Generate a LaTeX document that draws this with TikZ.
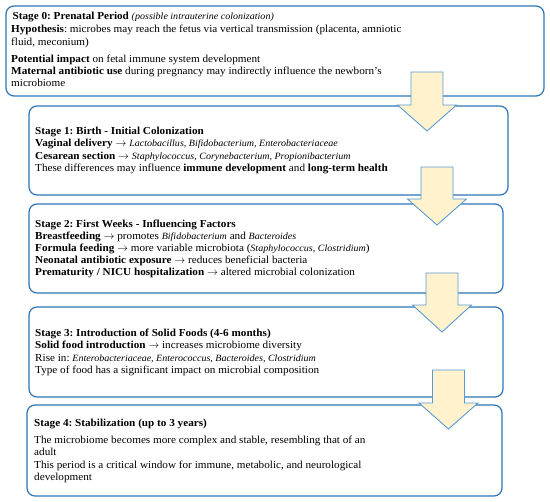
\documentclass[tikz,border=0pt]{standalone}
\usepackage{fontspec}
\setmainfont{Liberation Serif}[FakeStretch=1.045]
\definecolor{boxblue}{HTML}{2E75B6}
\definecolor{arrowblue}{HTML}{5B9BD5}
\definecolor{arrowfill}{HTML}{FFF2CC}
\tikzset{
  stagebox/.style={draw=boxblue, line width=1.2pt, rounded corners=8pt, fill=white},
  txt/.style={anchor=base west, inner sep=0pt, font=\fontsize{10.7}{12}\selectfont},
  blockarrow/.style={draw=arrowblue, line width=0.9pt, fill=arrowfill, line join=miter}
}
\newcommand{\spc}[1]{{\fontsize{9.6}{11}\selectfont\itshape #1}}
\newcommand{\blockarr}[4]{% cx, shaft top, head base, tip
  \draw[blockarrow] (#1-16,#2) -- (#1+16,#2) -- (#1+16,#3) -- (#1+29.5,#3) -- (#1,#4) -- (#1-29.5,#3) -- (#1-16,#3) -- cycle;}
\frenchspacing
\begin{document}
\begin{tikzpicture}[x=1pt,y=-1pt]
\useasboundingbox (0,0) rectangle (550,502);
\fill[white] (0,0) rectangle (550,502);
% boxes
\draw[stagebox] (6,6) rectangle (544,96);
\node[inner sep=0pt] (s0) at (275,51) {};
\draw[stagebox] (29,106) rectangle (508,195);
\node[inner sep=0pt] (s1) at (268.5,150.5) {};
\draw[stagebox] (29,204) rectangle (503,293);
\node[inner sep=0pt] (s2) at (266,248.5) {};
\draw[stagebox] (29,307) rectangle (503,397);
\node[inner sep=0pt] (s3) at (266,352) {};
\draw[stagebox] (27,405) rectangle (502,496);
\node[inner sep=0pt] (s4) at (264.5,450.5) {};
% stage 0 text
\node[txt] (t00) at (12.5,19.5) {\textbf{Stage 0: Prenatal Period} \spc{(possible intrauterine colonization)}};
\node[txt] (t01) at (11,33) {\textbf{Hypothesis}: microbes may reach the fetus via vertical transmission (placenta, amniotic};
\node[txt] (t02) at (11,45.5) {fluid, meconium)};
\node[txt] (t03) at (11,63) {\textbf{Potential impact} on fetal immune system development};
\node[txt] (t04) at (11,75) {\textbf{Maternal antibiotic use} during pregnancy may indirectly influence the newborn’s};
\node[txt] (t05) at (11,87) {microbiome};
% stage 1
\node[txt] (t10) at (35,134.5) {\textbf{Stage 1: Birth - Initial Colonization}};
\node[txt] (t11) at (35,146.5) {\textbf{Vaginal delivery} $\rightarrow$ \spc{Lactobacillus, Bifidobacterium, Enterobacteriaceae}};
\node[txt] (t12) at (35,159.5) {\textbf{Cesarean section} $\rightarrow$ \spc{Staphylococcus, Corynebacterium, Propionibacterium}};
\node[txt] (t13) at (35,171.5) {These differences may influence \textbf{immune development} and \textbf{long-term health}};
% stage 2
\node[txt] (t20) at (35,227.5) {\textbf{Stage 2: First Weeks - Influencing Factors}};
\node[txt] (t21) at (35,239.5) {\textbf{Breastfeeding} $\rightarrow$ promotes \spc{Bifidobacterium} and \spc{Bacteroides}};
\node[txt] (t22) at (35,251.5) {\textbf{Formula feeding} $\rightarrow$ more variable microbiota (\spc{Staphylococcus, Clostridium})};
\node[txt] (t23) at (35,263.5) {\textbf{Neonatal antibiotic exposure} $\rightarrow$ reduces beneficial bacteria};
\node[txt] (t24) at (35,275.5) {\textbf{Prematurity / NICU hospitalization} $\rightarrow$ altered microbial colonization};
% stage 3
\node[txt] (t30) at (35,336.5) {\textbf{Stage 3: Introduction of Solid Foods (4-6 months)}};
\node[txt] (t31) at (35,348.5) {\textbf{Solid food introduction} $\rightarrow$ increases microbiome diversity};
\node[txt] (t32) at (35,361.5) {Rise in: \spc{Enterobacteriaceae, Enterococcus, Bacteroides, Clostridium}};
\node[txt] (t33) at (35,373.5) {Type of food has a significant impact on microbial composition};
% stage 4
\node[txt] (t40) at (34,426.5) {\textbf{Stage 4: Stabilization (up to 3 years)}};
\node[txt] (t41) at (34,443.5) {The microbiome becomes more complex and stable, resembling that of an};
\node[txt] (t42) at (34,455.5) {adult};
\node[txt] (t43) at (34,468.5) {This period is a critical window for immune, metabolic, and neurological};
\node[txt] (t44) at (34,480.5) {development};
% block arrows
\blockarr{427}{72}{105}{131}
\blockarr{437}{167}{199}{225}
\blockarr{442}{273}{305}{332}
\blockarr{448.5}{370}{403}{429}
\end{tikzpicture}
\end{document}
